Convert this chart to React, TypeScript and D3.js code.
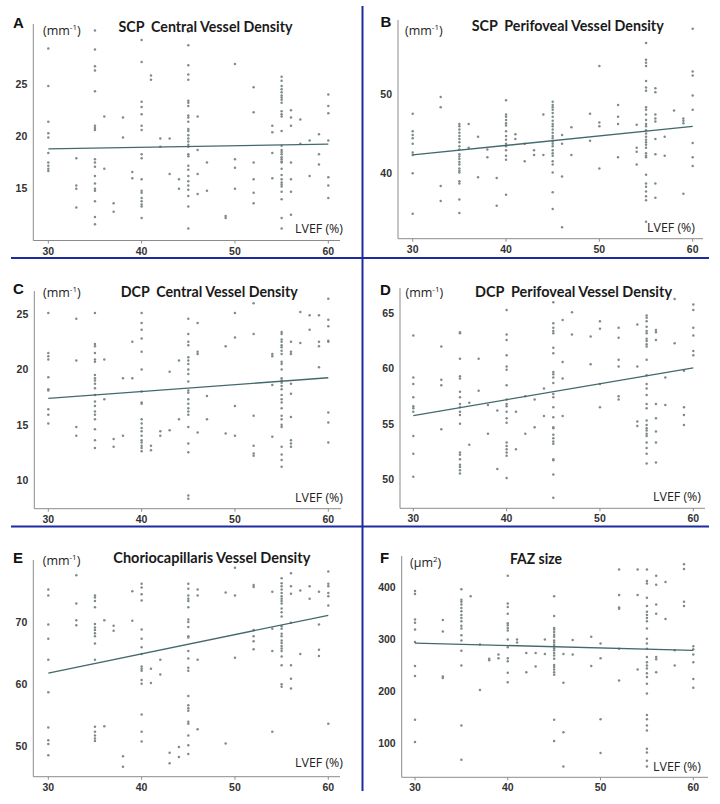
import React from 'react';
import * as d3 from 'd3';

type Column = [number, number[]];

// LVEF (%) ticks shared by all six panels
const lvefTicks = [30, 40, 50, 60];

// A: SCP central vessel density (mm-1), grouped by LVEF
const scpCentral: Column[] = [
  [30, [28.4, 24.8, 21.4, 20.3, 19.9, 18.4, 17.5, 17.2, 16.9, 16.7]],
  [33, [17.9, 15.3, 15.0, 13.2]],
  [35, [30.1, 28.3, 26.7, 26.3, 24.3, 21.0, 20.8, 20.6, 17.8, 17.5, 17.1, 16.2, 15.5, 15.0, 14.8, 13.8, 12.3, 11.6]],
  [36, [21.9, 16.9]],
  [37, [13.6, 12.8]],
  [38, [21.8, 19.9]],
  [39, [16.6, 16.0]],
  [40, [29.2, 27.1, 23.3, 22.8, 22.1, 21.0, 20.6, 18.3, 17.9, 15.9, 14.8, 14.6, 14.1, 13.8, 13.5, 13.3, 12.2]],
  [41, [25.8, 25.4]],
  [42, [19.8, 19.0]],
  [43, [19.8, 16.4]],
  [44, [15.9, 15.0]],
  [45, [30.0, 28.7, 26.8, 25.9, 25.4, 23.4, 23.2, 22.9, 22.0, 21.8, 21.4, 20.7, 20.5, 20.1, 19.8, 19.5, 19.2, 19.0, 18.3, 18.1, 17.2, 16.8, 16.2, 15.7, 15.3, 14.9, 14.3, 13.3, 11.2]],
  [46, [21.9, 18.7, 16.4, 14.5]],
  [47, [17.5, 14.8]],
  [49, [12.4, 12.2]],
  [50, [26.9, 17.8, 17.0, 15.0]],
  [52, [24.7, 22.3, 17.5, 15.9, 14.6, 13.6]],
  [54, [21.0, 20.4, 18.4, 16.0]],
  [55, [25.7, 25.3, 24.8, 24.5, 24.2, 23.9, 23.7, 23.5, 23.2, 22.4, 22.1, 21.9, 20.5, 19.1, 18.7, 18.5, 18.3, 18.0, 17.8, 17.6, 17.5, 16.9, 16.3, 15.9, 15.6, 15.4, 15.2, 14.7, 14.0, 12.2, 11.2]],
  [56, [22.5, 21.8, 21.0, 17.5, 15.9, 14.7, 12.5]],
  [57, [21.6, 19.3]],
  [58, [19.6, 16.2]],
  [59, [20.2, 18.3, 17.3]],
  [60, [24.0, 22.9, 22.2, 19.6, 16.1, 15.3, 14.1]],
];
const scpCentralFit = [18.8, 19.25];
const scpCentralTicks = [15, 20, 25];

// B: SCP perifoveal vessel density
const scpPerifoveal: Column[] = [
  [30, [47.5, 45.3, 44.8, 44.4, 43.7, 42.6, 42.3, 40.0, 34.9]],
  [33, [49.6, 48.3, 38.4, 36.5]],
  [35, [46.2, 45.9, 45.5, 45.1, 44.7, 44.3, 43.9, 43.4, 43.0, 42.4, 42.1, 41.8, 41.4, 41.1, 40.6, 40.3, 40.1, 39.0, 38.7, 36.7, 35.0]],
  [36, [46.2, 43.2]],
  [37, [44.6, 39.5]],
  [38, [43.0, 42.0]],
  [39, [39.4, 35.9]],
  [40, [49.2, 47.4, 47.1, 46.7, 46.3, 46.0, 45.3, 44.7, 44.2, 43.7, 43.4, 42.9, 42.2, 41.7, 37.3]],
  [41, [44.9, 44.3]],
  [42, [43.7, 41.5]],
  [43, [42.9, 42.3]],
  [44, [47.4, 42.3]],
  [45, [49.0, 48.6, 48.3, 48.0, 47.6, 47.1, 46.6, 46.2, 45.9, 45.5, 45.1, 44.7, 44.4, 44.0, 43.7, 43.4, 42.9, 42.5, 42.2, 41.5, 41.1, 40.1, 37.6, 35.5]],
  [46, [44.8, 43.7, 39.6, 33.2]],
  [47, [45.8, 42.3]],
  [49, [47.5, 44.1]],
  [50, [53.5, 46.4, 45.9, 40.6]],
  [52, [48.6, 47.1, 46.2, 42.0]],
  [54, [46.1, 43.2, 42.7, 41.1]],
  [55, [56.4, 54.3, 53.9, 53.5, 51.6, 50.8, 50.4, 48.3, 48.0, 47.4, 46.7, 46.2, 45.9, 45.4, 45.0, 44.6, 44.2, 43.9, 43.6, 43.2, 42.5, 42.2, 42.0, 39.8, 38.7, 38.3, 37.7, 37.1, 36.6, 33.9]],
  [56, [50.7, 50.2, 47.4, 46.9, 46.5, 44.3, 42.4, 38.7, 36.9]],
  [57, [44.6, 42.2]],
  [58, [47.9]],
  [59, [46.9, 46.6, 46.3, 37.4]],
  [60, [58.2, 52.8, 52.3, 49.8, 48.0, 43.8, 42.0, 40.9]],
];
const scpPerifovealFit = [42.3, 45.9];
const scpPerifovealTicks = [40, 50];

// C: DCP central vessel density
const dcpCentral: Column[] = [
  [30, [25.1, 21.5, 21.2, 20.9, 19.3, 18.2, 18.1, 16.4, 15.9, 15.1]],
  [33, [24.6, 20.8, 14.8, 14.0]],
  [35, [25.1, 22.3, 22.1, 21.5, 20.9, 20.7, 19.5, 19.2, 19.0, 18.7, 18.3, 17.7, 17.1, 16.7, 16.2, 15.9, 15.5, 14.6, 13.6, 12.9]],
  [36, [20.9, 17.3]],
  [37, [13.7, 13.0]],
  [38, [19.2, 14.0]],
  [39, [22.5, 19.2]],
  [40, [25.1, 24.2, 23.6, 22.8, 21.6, 20.0, 18.0, 17.0, 16.9, 15.5, 15.1, 14.7, 14.4, 14.0, 13.6, 13.4, 13.1, 12.9, 12.6]],
  [41, [13.1, 12.7]],
  [42, [14.4, 14.0]],
  [43, [19.8, 14.5]],
  [44, [20.8, 15.5]],
  [45, [24.6, 23.2, 22.5, 22.2, 21.1, 20.8, 20.5, 20.0, 19.6, 18.9, 18.1, 17.9, 17.3, 16.9, 16.5, 16.2, 15.9, 14.8, 13.3, 12.5, 8.6, 8.3]],
  [46, [24.2, 21.6, 21.4, 14.3]],
  [47, [17.6, 15.5]],
  [49, [22.1, 14.2]],
  [50, [25.1, 22.9, 16.7, 14.0]],
  [52, [26.0, 23.2, 15.8, 13.1, 12.4, 12.2]],
  [54, [21.4, 21.2, 18.6, 13.9]],
  [55, [23.4, 23.2, 22.7, 22.5, 22.2, 22.0, 21.7, 21.4, 20.7, 20.5, 20.0, 19.2, 19.0, 18.8, 18.5, 18.2, 17.7, 17.3, 17.0, 16.5, 15.8, 15.5, 15.0, 14.8, 13.0, 12.3, 11.8, 11.2]],
  [56, [22.5, 21.6, 21.4, 18.7, 17.8, 15.7, 13.6, 13.3, 13.0]],
  [57, [25.2, 22.4]],
  [58, [24.9, 23.6]],
  [59, [24.9, 22.5, 22.1, 20.2]],
  [60, [26.4, 24.5, 23.9, 22.6, 22.5, 16.1, 15.2, 13.4]],
];
const dcpCentralFit = [17.38, 19.25];
const dcpCentralTicks = [10, 15, 20, 25];

// D: DCP perifoveal vessel density
const dcpPerifoveal: Column[] = [
  [30, [63.0, 59.2, 58.6, 57.4, 56.6, 56.4, 56.1, 53.9, 52.3, 50.2]],
  [33, [62.0, 59.0, 58.5, 54.5]],
  [35, [63.3, 63.2, 60.9, 59.3, 59.1, 57.9, 57.4, 56.8, 56.5, 56.1, 55.8, 55.0, 52.4, 52.2, 51.8, 51.3, 51.1, 50.8, 50.5]],
  [36, [56.9, 53.1]],
  [37, [60.9, 58.0]],
  [38, [56.7, 54.1]],
  [39, [56.2, 50.9]],
  [40, [65.3, 63.1, 62.6, 61.2, 60.2, 59.9, 58.5, 57.2, 56.8, 56.6, 56.1, 55.5, 55.1, 53.3, 53.0, 52.7, 52.4, 52.1, 50.1]],
  [41, [56.1, 52.7]],
  [42, [57.5, 54.1]],
  [43, [57.2, 54.7]],
  [44, [58.2, 55.7]],
  [45, [66.0, 64.1, 63.7, 63.4, 63.2, 61.9, 61.4, 59.7, 59.5, 59.2, 58.7, 57.7, 57.4, 56.5, 55.6, 54.7, 54.6, 54.0, 53.7, 53.4, 53.2, 51.8, 51.7, 50.4, 48.3]],
  [46, [64.4, 60.6, 59.1, 55.7]],
  [47, [65.1, 63.1]],
  [49, [62.9, 60.4]],
  [50, [64.3, 63.6, 58.6, 56.5]],
  [52, [63.7, 62.8, 60.8, 60.2, 57.5, 57.2]],
  [54, [64.0, 60.2, 55.2, 54.8]],
  [55, [64.8, 64.6, 64.3, 63.8, 63.4, 63.2, 62.7, 62.5, 62.2, 62.0, 60.8, 59.4, 58.6, 58.2, 57.6, 56.8, 56.4, 55.3, 54.9, 54.6, 54.4, 54.1, 53.9, 53.3, 52.8, 52.3, 51.4]],
  [56, [63.5, 63.3, 62.6, 56.8, 55.5, 54.3, 53.3, 51.5]],
  [57, [59.2, 56.7]],
  [58, [66.3, 62.3]],
  [59, [59.8, 56.5, 55.8, 54.9]],
  [60, [65.8, 65.3, 63.7, 63.0, 61.6, 61.2]],
];
const dcpPerifovealFit = [55.75, 60.06];
const dcpPerifovealTicks = [50, 55, 60, 65];

// E: choriocapillaris vessel density
const chorio: Column[] = [
  [30, [75.4, 74.4, 69.7, 67.4, 64.0, 58.7, 53.0, 50.9, 50.3, 48.5]],
  [33, [77.7, 73.1, 70.4, 69.6]],
  [35, [74.4, 74.1, 73.5, 72.5, 69.8, 69.2, 68.8, 68.3, 67.8, 66.6, 64.0, 53.1, 52.3, 51.7, 51.2, 50.8]],
  [36, [70.4, 53.2]],
  [37, [69.5, 68.7]],
  [38, [48.3, 46.6]],
  [39, [75.1, 70.3]],
  [40, [76.3, 75.7, 74.6, 73.6, 68.9, 67.4, 66.0, 64.9, 62.9, 62.5, 62.2, 60.7, 60.1, 55.1, 52.3, 50.7]],
  [41, [62.5, 60.2]],
  [42, [64.0, 61.6]],
  [43, [48.9, 47.2]],
  [44, [49.8, 48.2]],
  [45, [76.3, 75.5, 74.4, 73.9, 73.5, 72.5, 70.5, 70.1, 69.3, 67.8, 67.6, 65.4, 64.2, 62.7, 62.2, 58.1, 56.6, 56.1, 55.7, 53.9, 53.6, 51.7, 50.1, 48.7]],
  [46, [75.4, 74.4, 64.0, 52.7]],
  [49, [74.9, 50.4]],
  [50, [78.9, 74.4, 64.3]],
  [52, [76.1, 75.8, 68.8, 67.8, 67.0, 65.7]],
  [54, [75.0, 69.0, 65.4, 52.3]],
  [55, [77.2, 76.4, 75.9, 75.4, 74.8, 74.3, 73.9, 73.5, 73.1, 72.3, 71.7, 71.0, 69.4, 69.0, 68.2, 67.8, 67.1, 66.7, 66.2, 65.8, 65.4, 64.5, 63.1, 60.0, 59.6]],
  [56, [78.0, 75.9, 74.7, 70.0, 63.1, 60.9, 59.3]],
  [57, [75.2, 64.9]],
  [58, [75.9, 73.9]],
  [59, [75.0, 69.7, 65.6, 64.6]],
  [60, [78.3, 76.3, 75.9, 74.8, 74.3, 72.8, 53.6]],
];
const chorioFit = [61.8, 71.2];
const chorioTicks = [50, 60, 70];

// F: FAZ size (μm2)
const fazSize: Column[] = [
  [30, [393, 387, 338, 332, 319, 295, 249, 230, 146, 103]],
  [33, [337, 315, 229, 226]],
  [35, [396, 376, 372, 367, 360, 354, 347, 341, 335, 326, 321, 308, 298, 278, 250, 135, 69]],
  [36, [383]],
  [37, [290, 203]],
  [38, [263, 260]],
  [39, [271, 264]],
  [40, [422, 369, 362, 349, 331, 327, 322, 317, 300, 285, 264, 258, 236, 218]],
  [41, [300, 294]],
  [42, [274, 237]],
  [43, [274, 248]],
  [44, [300, 272]],
  [45, [383, 345, 322, 319, 314, 309, 305, 298, 294, 289, 283, 279, 274, 269, 263, 251, 247, 242, 237, 232, 146, 105]],
  [46, [272, 217, 122, 56]],
  [47, [299, 271]],
  [49, [305, 249]],
  [50, [292, 264, 147, 82]],
  [52, [434, 385, 361, 359, 282, 221]],
  [54, [434, 385, 242]],
  [55, [434, 412, 407, 380, 364, 353, 347, 341, 335, 321, 301, 292, 282, 266, 256, 250, 244, 235, 228, 215, 196, 155, 147, 135, 125, 90, 83, 67, 56]],
  [56, [422, 405, 367, 349, 266, 262, 237]],
  [57, [410, 339]],
  [58, [279, 250]],
  [59, [444, 435, 372, 364]],
  [60, [287, 281, 271, 256, 224, 207]],
];
const fazFit = [293, 279];
const fazTicks = [100, 200, 300, 400];

// layout of the six panels (pixel positions only)
const panels = [
  { letter: 'A', title: 'SCP  Central Vessel Density', unit: 'mm', sup: '-1', data: scpCentral, fit: scpCentralFit, ticks: scpCentralTicks,
    ox: 33.3, axisY: 240.5, x0: 48.3, x1: 328.3, right: 340, top: 24, yLo: 10.05, yHi: 30.73,
    titleX: 118.5, titleY: 31.5, titleW: 174, letterX: 13, letterY: 27.5, unitX: 43, unitY: 35, lvefX: 295, lvefY: 233 },
  { letter: 'B', title: 'SCP  Perifoveal Vessel Density', unit: 'mm', sup: '-1', data: scpPerifoveal, fit: scpPerifovealFit, ticks: scpPerifovealTicks,
    ox: 398, axisY: 238.7, x0: 412.7, x1: 692.7, right: 703, top: 20, yLo: 31.75, yHi: 59.3,
    titleX: 471.7, titleY: 31, titleW: 192, letterX: 380.5, letterY: 26.7, unitX: 405, unitY: 35, lvefX: 647, lvefY: 231.7 },
  { letter: 'C', title: 'DCP  Central Vessel Density', unit: 'mm', sup: '-1', data: dcpCentral, fit: dcpCentralFit, ticks: dcpCentralTicks,
    ox: 34.3, axisY: 508.7, x0: 48.3, x1: 328.3, right: 341, top: 291, yLo: 7.4, yHi: 27.1,
    titleX: 120.7, titleY: 297, titleW: 177, letterX: 13, letterY: 294.3, unitX: 43, unitY: 296.7, lvefX: 295, lvefY: 501.7 },
  { letter: 'D', title: 'DCP  Perifoveal Vessel Density', unit: 'mm', sup: '-1', data: dcpPerifoveal, fit: dcpPerifovealFit, ticks: dcpPerifovealTicks,
    ox: 400, axisY: 508.3, x0: 413.3, x1: 693.3, right: 705, top: 288, yLo: 47.35, yHi: 67.3,
    titleX: 475, titleY: 297, titleW: 197, letterX: 380, letterY: 295, unitX: 405.5, unitY: 296.7, lvefX: 653, lvefY: 500.7 },
  { letter: 'E', title: 'Choriocapillaris Vessel Density', unit: 'mm', sup: '-1', data: chorio, fit: chorioFit, ticks: chorioTicks,
    ox: 33.3, axisY: 776.7, x0: 48.3, x1: 328.3, right: 340, top: 560, yLo: 45.0, yHi: 80.17,
    titleX: 113.3, titleY: 563, titleW: 197, letterX: 13, letterY: 563, unitX: 42.7, unitY: 565, lvefX: 295, lvefY: 766.7 },
  { letter: 'F', title: 'FAZ size', unit: 'μm', sup: '2', data: fazSize, fit: fazFit, ticks: fazTicks,
    ox: 401.7, axisY: 777.3, x0: 415, x1: 693.3, right: 708, top: 556, yLo: 35.4, yHi: 460,
    titleX: 510, titleY: 564, titleW: 52, letterX: 380, letterY: 562.7, unitX: 410, unitY: 566.5, lvefX: 653, lvefY: 770.7 },
];

const labelFont = 'Lato, "Liberation Sans", sans-serif';
const unitFont = '"Open Sans", "Liberation Sans", sans-serif';
const tickFont = '"Liberation Sans", Arial, sans-serif';

function Panel({ p }: { p: any }) {
  const x = d3.scaleLinear().domain([30, 60]).range([p.x0, p.x1]);
  const y = d3.scaleLinear().domain([p.yLo, p.yHi]).range([p.axisY, p.top]);
  const points: [number, number][] = p.data.flatMap(([lvef, vals]: Column) => vals.map(v => [lvef, v] as [number, number]));
  const fitLine = d3.line<[number, number]>()
    .x(d => x(d[0]))
    .y(d => y(d[1]))([[30, p.fit[0]], [60, p.fit[1]]]);

  return (
    <g>
      {/* axes */}
      <line x1={p.ox} x2={p.ox} y1={p.top} y2={p.axisY} stroke="#8c8c8c" strokeWidth={1} />
      <line x1={p.ox} x2={p.right} y1={p.axisY} y2={p.axisY} stroke="#8c8c8c" strokeWidth={1} />
      {lvefTicks.map(t => (
        <g key={t}>
          <line x1={x(t)} x2={x(t)} y1={p.axisY} y2={p.axisY + 3} stroke="#8c8c8c" />
          <text x={x(t)} y={p.axisY + 14} textAnchor="middle" fontFamily={tickFont} fontWeight="bold" fontSize={10.5} fill="#333">{t}</text>
        </g>
      ))}
      {p.ticks.map((t: number) => (
        <text key={t} x={p.ox - 6} y={y(t) + 3.8} textAnchor="end" fontFamily={tickFont} fontWeight="bold" fontSize={10.5} fill="#333">{t}</text>
      ))}

      {/* points */}
      {points.map((d, i) => (
        <circle key={i} cx={x(d[0])} cy={y(d[1])} r={1.25} fill="#7f8b8b" />
      ))}

      {/* regression */}
      <path d={fitLine || ''} fill="none" stroke="#44696a" strokeWidth={1.3} />

      {/* labels */}
      <text x={p.letterX} y={p.letterY} fontFamily={tickFont} fontWeight="bold" fontSize={15} fill="#111">{p.letter}</text>
      <text x={p.titleX} y={p.titleY} fontFamily={labelFont} fontWeight="bold" fontSize={14.5} fill="#1a1a1a"
        textLength={p.titleW} lengthAdjust="spacingAndGlyphs" style={{ whiteSpace: 'pre' }}>{p.title}</text>
      <text x={p.unitX} y={p.unitY} fontFamily={unitFont} fontSize={12.5} fill="#222">
        ({p.unit}<tspan fontSize={8} dy={-5}>{p.sup}</tspan><tspan dy={5}>)</tspan>
      </text>
      <text x={p.lvefX} y={p.lvefY} fontFamily={unitFont} fontSize={13} fill="#222" textLength={48} lengthAdjust="spacingAndGlyphs" style={{ whiteSpace: 'pre' }}>LVEF (%)</text>
    </g>
  );
}

export default function App() {
  const width = 720;
  const height = 804;
  return (
    <svg width={width} height={height} style={{ position: 'absolute', left: 0, top: 0, background: '#fff' }}>
      <rect x={0} y={0} width={width} height={height} fill="#fff" />
      {panels.map(p => <Panel key={p.letter} p={p} />)}
      {/* blue separators */}
      <line x1={11} x2={709} y1={258} y2={258} stroke="#1d2ba0" strokeWidth={2} />
      <line x1={11} x2={709} y1={526.5} y2={526.5} stroke="#1d2ba0" strokeWidth={2} />
      <line x1={362.5} x2={362.5} y1={6} y2={791} stroke="#1d2ba0" strokeWidth={2} />
    </svg>
  );
}
